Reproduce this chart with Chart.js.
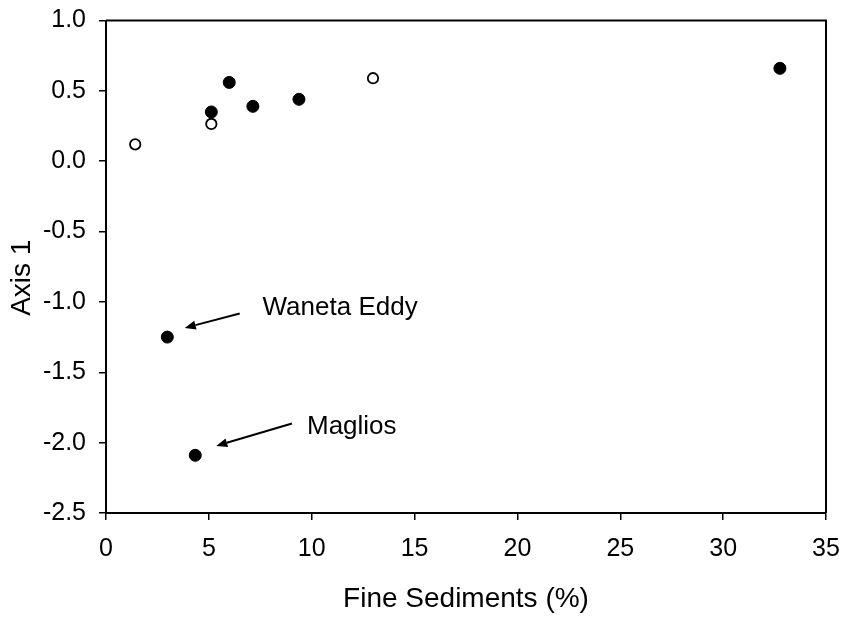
<!DOCTYPE html>
<html>
<head>
<meta charset="utf-8">
<script src="https://cdn.jsdelivr.net/npm/chart.js@4.4.1/dist/chart.umd.min.js"></script>
<style>
  html, body { margin: 0; padding: 0; background: #fff; }
  #wrap { width: 842px; height: 620px; position: relative; }
</style>
</head>
<body>
<div id="wrap"><canvas id="chart"></canvas></div>
<script>
// sites: solid markers
const solidX = [5.12, 5.99, 7.14, 9.38, 32.76, 2.98, 4.34];
const solidY = [0.35, 0.56, 0.39, 0.44, 0.66, -1.25, -2.09];
// sites: hollow markers
const hollowX = [1.42, 5.12, 12.98];
const hollowY = [0.12, 0.265, 0.59];

const xTicks = [0, 5, 10, 15, 20, 25, 30, 35];
const yTicks = [1.0, 0.5, 0.0, -0.5, -1.0, -1.5, -2.0, -2.5];

// callouts: label anchor (left, middle) and arrow tail -> tip, in data units
const calloutText = ['Waneta Eddy', 'Maglios'];
const calloutAt = [[7.61, -1.04], [9.77, -1.89]];
const arrowFrom = [[6.5, -1.082], [9.04, -1.864]];
const arrowTo = [[3.83, -1.185], [5.36, -2.023]];

const yTitle = 'Axis 1';

const toPoints = (xs, ys) => xs.map((x, i) => ({ x, y: ys[i] }));

const FONT = "'Liberation Sans', Arial, sans-serif";

// closes the frame on top and right, draws the y title and the labelled arrows
const frameAndCallouts = {
    id: 'frameAndCallouts',
    afterDraw(chart) {
        const { ctx, chartArea: a, scales: { x, y } } = chart;
        ctx.save();
        ctx.strokeStyle = '#000';
        ctx.lineWidth = 2;
        ctx.beginPath();
        ctx.moveTo(a.left, a.top);
        ctx.lineTo(a.right, a.top);
        ctx.lineTo(a.right, a.bottom);
        ctx.stroke();

        ctx.fillStyle = '#000';
        ctx.textAlign = 'center';
        ctx.textBaseline = 'middle';
        ctx.font = `28px ${FONT}`;
        ctx.save();
        ctx.translate(22, (a.top + a.bottom) / 2 + 11);
        ctx.rotate(-Math.PI / 2);
        ctx.fillText(yTitle, 0, 0);
        ctx.restore();

        ctx.font = `26px ${FONT}`;
        ctx.textAlign = 'left';
        calloutText.forEach((t, i) => {
            ctx.fillText(t, x.getPixelForValue(calloutAt[i][0]), y.getPixelForValue(calloutAt[i][1]));

            const x0 = x.getPixelForValue(arrowFrom[i][0]), y0 = y.getPixelForValue(arrowFrom[i][1]);
            const x1 = x.getPixelForValue(arrowTo[i][0]), y1 = y.getPixelForValue(arrowTo[i][1]);
            const ang = Math.atan2(y1 - y0, x1 - x0);
            const head = 11, half = 4.5;
            const bx = x1 - head * Math.cos(ang), by = y1 - head * Math.sin(ang);
            ctx.lineWidth = 2;
            ctx.beginPath();
            ctx.moveTo(x0, y0);
            ctx.lineTo(bx, by);
            ctx.stroke();
            ctx.beginPath();
            ctx.moveTo(x1, y1);
            ctx.lineTo(bx + half * Math.sin(ang), by - half * Math.cos(ang));
            ctx.lineTo(bx - half * Math.sin(ang), by + half * Math.cos(ang));
            ctx.closePath();
            ctx.fill();
        });
        ctx.restore();
    }
};

new Chart(document.getElementById('chart'), {
    type: 'scatter',
    data: {
        datasets: [
            {
                label: 'solid',
                data: toPoints(solidX, solidY),
                backgroundColor: '#000',
                borderColor: '#000',
                borderWidth: 1,
                pointRadius: 6
            },
            {
                label: 'hollow',
                data: toPoints(hollowX, hollowY),
                backgroundColor: '#fff',
                borderColor: '#000',
                borderWidth: 1.8,
                pointRadius: 5.2
            }
        ]
    },
    options: {
        responsive: true,
        maintainAspectRatio: false,
        animation: false,
        layout: { padding: { top: 20.5, right: 16, bottom: 0, left: 0 } },
        plugins: { legend: { display: false }, tooltip: { enabled: false } },
        scales: {
            x: {
                type: 'linear',
                min: 0,
                max: 35,
                afterBuildTicks: (s) => { s.ticks = xTicks.map(v => ({ value: v })); },
                afterFit: (s) => { s.height = 107; s.paddingLeft = 0; s.paddingRight = 0; },
                border: { display: true, color: '#000', width: 2 },
                grid: { drawOnChartArea: false, drawTicks: true, tickLength: 7, color: '#000', lineWidth: 1.5 },
                ticks: { color: '#000', padding: 14, font: { family: FONT, size: 25 }, maxRotation: 0 },
                title: { display: true, text: 'Fine Sediments (%)', color: '#000', font: { family: FONT, size: 28 }, padding: { top: 0, bottom: 4 } }
            },
            y: {
                type: 'linear',
                min: -2.5,
                max: 1.0,
                afterBuildTicks: (s) => { s.ticks = yTicks.map(v => ({ value: v })); },
                afterFit: (s) => { s.width = 106; s.paddingTop = 0; s.paddingBottom = 0; },
                border: { display: true, color: '#000', width: 2 },
                grid: { drawOnChartArea: false, drawTicks: true, tickLength: 7, color: '#000', lineWidth: 1.5 },
                ticks: { color: '#000', padding: 13, font: { family: FONT, size: 25 }, callback: (v) => Number(v).toFixed(1) }
            }
        }
    },
    plugins: [frameAndCallouts]
});
</script>
</body>
</html>
